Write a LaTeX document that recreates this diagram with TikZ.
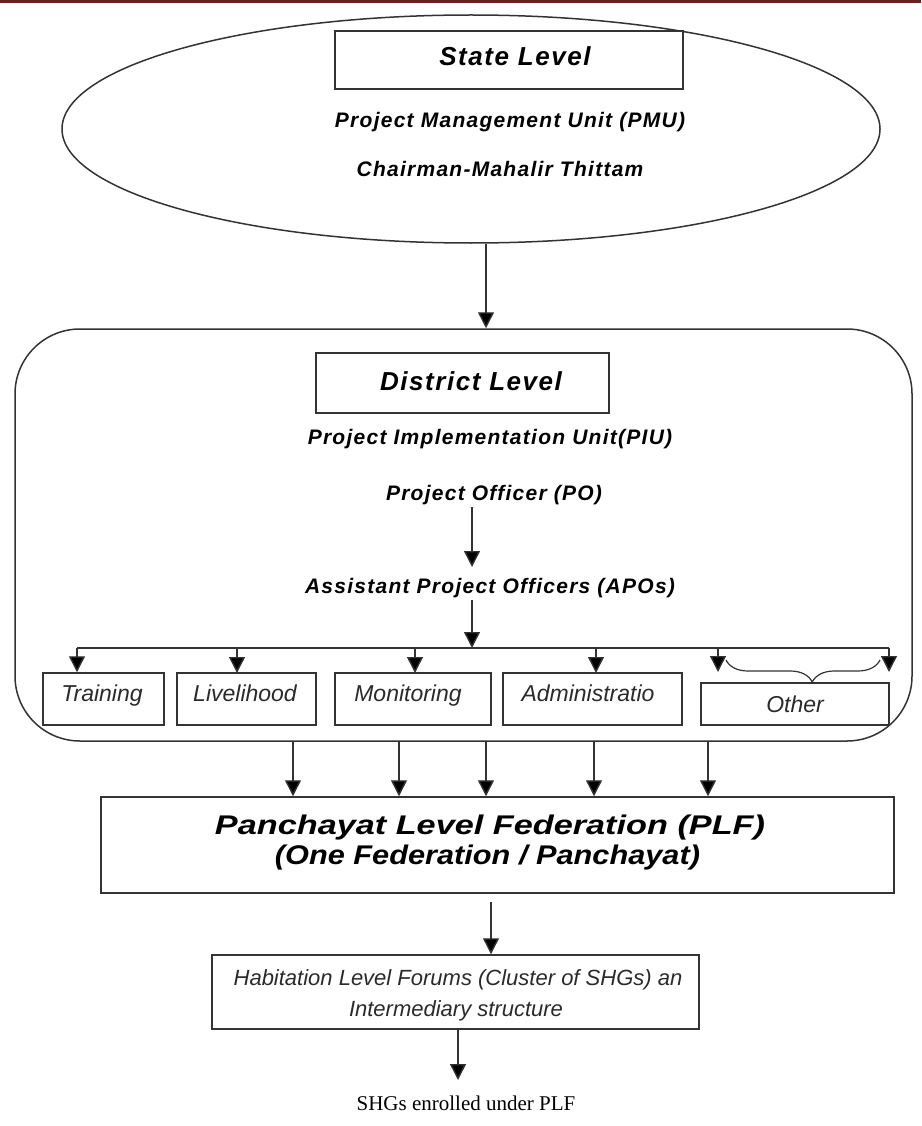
\documentclass[tikz,border=0pt]{standalone}
\usepackage{graphicx}
\usepackage{fontspec}
\setmainfont{Liberation Sans}
\newfontfamily\bif[LetterSpace=6]{Liberation Sans}
\newfontfamily\serifT{Liberation Serif}
\usetikzlibrary{arrows.meta,decorations.pathreplacing,shapes.geometric}
\definecolor{barred}{HTML}{6B2020}
\definecolor{ln}{HTML}{333333}
\definecolor{tx}{HTML}{2A2A2A}
\newcommand\fsz[1]{\fontsize{#1}{#1}\selectfont}
\begin{document}
\begin{tikzpicture}[x=1pt,y=-1pt,
  arr/.style={-{Triangle[width=16pt,length=16pt,fill=black]},line width=1.4pt,draw=ln},
  plain/.style={line width=1.4pt,draw=ln},
  box/.style={draw=ln,line width=1.5pt,inner sep=0pt},
  bt/.style={anchor=base,inner sep=0pt,text=black},
  it/.style={anchor=base,inner sep=0pt,text=tx,font=\fsz{23}\itshape}]
\useasboundingbox (0,0) rectangle (921,1126);
\fill[barred] (0,0) rectangle (921,3.5);

% state level
\node[draw=ln,line width=1.5pt,ellipse,minimum width=818pt,minimum height=228pt,inner sep=0pt] (ell) at (471,129) {};
\node[box,minimum width=348pt,minimum height=58pt] (state) at (509,60) {};
\node[bt,font=\bif\bfseries\itshape\fsz{26}] (statet) at (515,66) {State Level};
\node[bt,font=\bif\bfseries\itshape\fsz{21}] (pmu) at (510,128) {Project Management Unit (PMU)};
\node[bt,font=\bif\bfseries\itshape\fsz{21}] (chair) at (500,177) {Chairman-Mahalir Thittam};

% district level
\node[draw=ln,line width=1.5pt,rounded corners=65pt,minimum width=897pt,minimum height=412pt,inner sep=0pt] (dist) at (463.5,535) {};
\draw[arr] ([xshift=15pt]ell.south) -- ([xshift=15pt]ell.south |- dist.north);
\node[box,minimum width=293pt,minimum height=60pt] (distb) at (462.5,383) {};
\node[bt,font=\bif\bfseries\itshape\fsz{26}] (distt) at (471,390) {District Level};
\node[bt,font=\bif\bfseries\itshape\fsz{21}] (piu) at (490,444) {Project Implementation Unit(PIU)};
\node[bt,font=\bif\bfseries\itshape\fsz{21}] (po) at (494,500) {Project Officer (PO)};
\node[bt,font=\bif\bfseries\itshape\fsz{21}] (apo) at (490,593) {Assistant Project Officers (APOs)};
\coordinate (a1) at (472,507);
\coordinate (a2) at (472,567);
\coordinate (a3) at (472,600);
\coordinate (hl) at (77,648);
\coordinate (hr) at (889,648);
\coordinate (hm) at (472,648);
\draw[arr] (a1) -- (a2);
\draw[arr] (a3) -- (hm);
\draw[plain] (hl) -- (hr);

\node[box,minimum width=121pt,minimum height=52pt] (train) at (103.5,699) {};
\node[box,minimum width=139pt,minimum height=52pt] (live) at (246.5,699) {};
\node[box,minimum width=156pt,minimum height=52pt] (moni) at (413,699) {};
\node[box,minimum width=179pt,minimum height=52pt] (admin) at (592.5,699) {};
\node[box,minimum width=188pt,minimum height=42pt] (other) at (795,704) {};
\node[it] (traint) at (102,701) {Training};
\node[it] (livet) at (245,701) {Livelihood};
\node[it] (monit) at (408,701) {Monitoring};
\node[it] (admint) at (588,701) {Administratio};
\node[it] (othert) at (795,712) {Other};

\draw[arr] (hl) -- (hl |- train.north);
\draw[arr] (237,648) -- (237,673);
\draw[arr] (415,648) -- (415,673);
\draw[arr] (596,648) -- (596,673);
\coordinate (o1) at (718,648);
\draw[arr] (o1) -- (718,672);
\draw[arr] (hr) -- (889,672);
\draw[ln,line width=1.2pt,decorate,decoration={brace,amplitude=22pt,aspect=0.56,mirror}] (726,660) -- (880,660);

% PLF
\node[box,minimum width=793pt,minimum height=96pt] (plf) at (497.5,845) {};
\node[bt] (plf1) at (490,834) {\resizebox{550pt}{\height}{\bfseries\itshape\fsz{27}Panchayat Level Federation (PLF)}};
\node[bt] (plf2) at (487.5,864) {\resizebox{425pt}{\height}{\bfseries\itshape\fsz{27}(One Federation / Panchayat)}};
\foreach \x/\n in {293/p1,399/p2,486/p3,594/p4,708/p5}{
  \coordinate (\n) at (\x,741);
  \draw[arr] (\n) -- (\n |- plf.north);
}

% habitation
\node[box,minimum width=487pt,minimum height=74pt] (hab) at (455.5,992) {};
\coordinate (h0) at (491,902);
\draw[arr] (h0) -- (h0 |- hab.north);
\node[anchor=base,inner sep=0pt,text=tx,font=\fsz{22}\itshape] (habt) at (458,985) {Habitation Level Forums (Cluster of SHGs) an};
\node[anchor=base,inner sep=0pt,text=tx,font=\fsz{22}\itshape] (habt2) at (456,1016) {Intermediary structure};
\node[anchor=base,inner sep=0pt,font=\serifT\fsz{21}] (shg) at (466,1110) {SHGs enrolled under PLF};
\coordinate (h1) at (458,1030);
\draw[arr] (h1) -- (458,1080);
\end{tikzpicture}
\end{document}
